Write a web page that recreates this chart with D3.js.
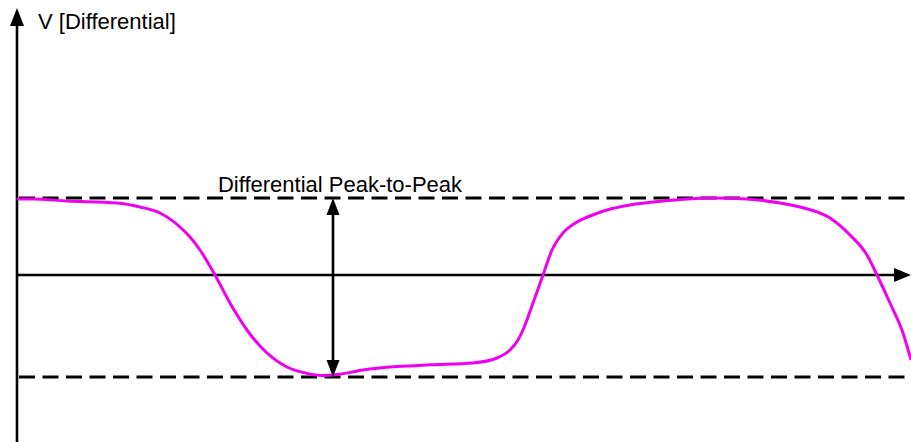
<!DOCTYPE html>
<html>
<head>
<meta charset="utf-8">
<script src="https://cdn.jsdelivr.net/npm/d3@7"></script>
<style>
  html, body { margin: 0; padding: 0; background: #fff; }
  svg { display: block; }
  text { font-family: "Liberation Sans", Arial, sans-serif; fill: #000; }
</style>
</head>
<body>
<svg id="chart" width="911" height="442"></svg>
<script>
// ---- data ----
const signalTime = [0, 0.16, 0.50, 1.00, 1.23, 1.43, 1.63, 1.73, 1.83, 1.98, 2.13, 2.30, 2.50, 2.70, 2.90, 3.05, 3.20,
  3.46, 3.80, 4.13, 4.56, 4.80, 4.93, 5.01, 5.06, 5.16, 5.26, 5.35, 5.46, 5.60, 5.73, 5.90, 6.13, 6.46, 6.96, 7.30,
  7.63, 7.83, 8.13, 8.33, 8.50, 8.60, 8.73, 8.86, 8.94];
const signalVolt = [0.38, 0.38, 0.37, 0.36, 0.34, 0.31, 0.24, 0.19, 0.125, 0, -0.14, -0.275, -0.39, -0.46, -0.492, -0.503, -0.498,
  -0.475, -0.458, -0.449, -0.44, -0.415, -0.375, -0.325, -0.275, -0.14, 0, 0.125, 0.21, 0.265, 0.295, 0.325, 0.35, 0.37, 0.385, 0.38,
  0.36, 0.34, 0.285, 0.20, 0.10, 0, -0.14, -0.29, -0.425];
const levelHigh = 0.385;
const levelLow = -0.51;
const peakTime = 3.16;
const timeDomain = [0, 8.94];
const labels = { yAxis: "V [Differential]", peak: "Differential Peak-to-Peak" };

// ---- layout ----
const svg = d3.select("#chart");
const W = 911, H = 442;
const x = d3.scaleLinear().domain(timeDomain).range([17, 911]);
const y = d3.scaleLinear().domain([levelLow, levelHigh]).range([377, 198]);

const x0 = x(0), y0 = y(0);

// dashed level lines
[levelHigh, levelLow].forEach(v => {
  svg.append("line")
    .attr("x1", x0 + 2).attr("x2", W)
    .attr("y1", y(v)).attr("y2", y(v))
    .attr("stroke", "#000").attr("stroke-width", 3)
    .attr("stroke-dasharray", "16,7.5");
});

// axes
svg.append("line").attr("x1", x0).attr("x2", x0).attr("y1", H).attr("y2", 20)
  .attr("stroke", "#000").attr("stroke-width", 2.6);
svg.append("path").attr("d", `M${x0},8 L${x0 - 7},26 L${x0 + 7},26 Z`).attr("fill", "#000");

svg.append("line").attr("x1", x0).attr("x2", W - 10).attr("y1", y0).attr("y2", y0)
  .attr("stroke", "#000").attr("stroke-width", 2.6);
svg.append("path").attr("d", `M${W},${y0} L${W - 17},${y0 - 7} L${W - 17},${y0 + 7} Z`).attr("fill", "#000");

// signal curve
const pts = signalTime.map((t, i) => [t, signalVolt[i]]);
const line = d3.line().x(d => x(d[0])).y(d => y(d[1])).curve(d3.curveMonotoneX);
svg.append("path").datum(pts).attr("d", line)
  .attr("fill", "none").attr("stroke", "#f000f0").attr("stroke-width", 3)
  .attr("stroke-linejoin", "round");

// peak-to-peak arrow
const px = x(peakTime), yt = y(levelHigh), yb = y(levelLow);
svg.append("line").attr("x1", px).attr("x2", px).attr("y1", yt + 10).attr("y2", yb - 10)
  .attr("stroke", "#000").attr("stroke-width", 2.6);
svg.append("path").attr("d", `M${px},${yt} L${px - 6.5},${yt + 17} L${px + 6.5},${yt + 17} Z`).attr("fill", "#000");
svg.append("path").attr("d", `M${px},${yb} L${px - 6.5},${yb - 17} L${px + 6.5},${yb - 17} Z`).attr("fill", "#000");

// text
svg.append("text").attr("x", 340).attr("y", 192).attr("text-anchor", "middle")
  .attr("font-size", 22).text(labels.peak);
svg.append("text").attr("x", 38).attr("y", 29).attr("font-size", 22).text(labels.yAxis);
</script>
</body>
</html>
